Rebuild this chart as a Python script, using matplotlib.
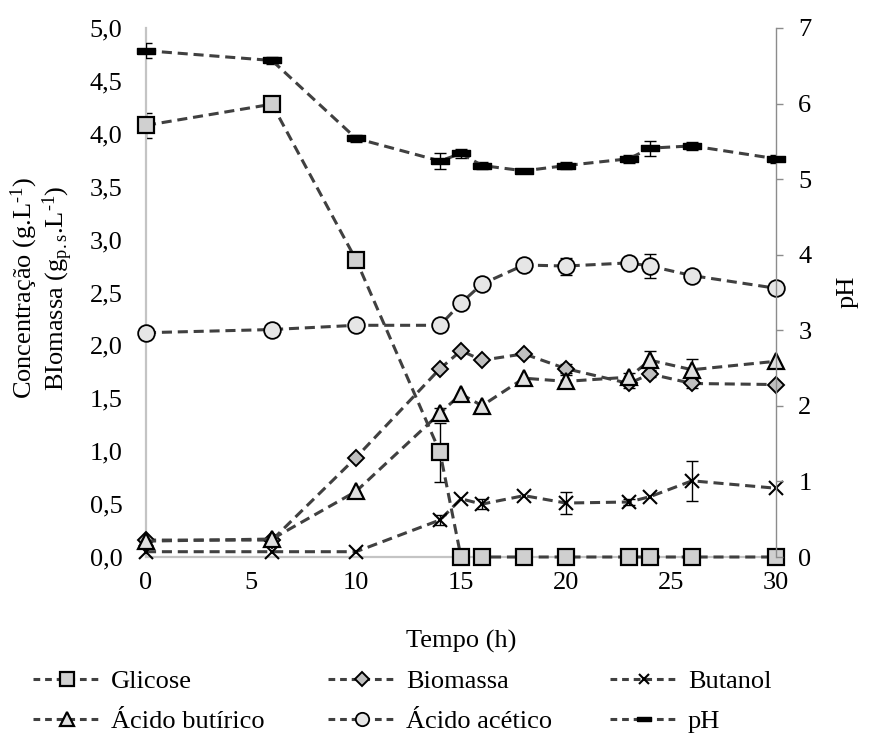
import matplotlib
matplotlib.use("Agg")
import matplotlib.pyplot as plt
import numpy as np
from matplotlib.lines import Line2D
from matplotlib.ticker import FuncFormatter, MultipleLocator

plt.rcParams["font.family"] = ["Liberation Serif", "DejaVu Serif"]
plt.rcParams["mathtext.fontset"] = "custom"
plt.rcParams["mathtext.rm"] = "Liberation Serif"
plt.rcParams["mathtext.it"] = "Liberation Serif:italic"
plt.rcParams["mathtext.default"] = "rm"

# Time points (h)
tempo = [0, 6, 10, 14, 15, 16, 18, 20, 23, 24, 26, 30]

# Concentrations (g/L) and biomass (g p.s./L)
glicose = [4.08, 4.28, 2.81, 0.99, 0, 0, 0, 0, 0, 0, 0, 0]
glicose_err = [0.12, 0, 0, 0.28, 0, 0, 0, 0, 0, 0, 0, 0]
biomassa = [0.16, 0.16, 0.94, 1.78, 1.95, 1.86, 1.92, 1.78, 1.64, 1.73, 1.64, 1.63]
biomassa_err = [0, 0, 0, 0, 0, 0, 0, 0.04, 0.04, 0.03, 0.04, 0]
butanol = [0.05, 0.05, 0.05, 0.35, 0.55, 0.50, 0.58, 0.51, 0.52, 0.57, 0.72, 0.65]
butanol_err = [0, 0, 0, 0.05, 0, 0.05, 0, 0.10, 0.03, 0, 0.19, 0]
ac_butirico = [0.15, 0.17, 0.62, 1.36, 1.54, 1.43, 1.69, 1.66, 1.70, 1.86, 1.77, 1.85]
ac_butirico_err = [0, 0, 0, 0.05, 0, 0, 0, 0.06, 0.04, 0.09, 0.10, 0]
ac_acetico = [2.12, 2.15, 2.19, 2.19, 2.40, 2.58, 2.76, 2.75, 2.78, 2.75, 2.66, 2.54]
ac_acetico_err = [0, 0, 0, 0, 0, 0, 0, 0.08, 0, 0.11, 0, 0]

# pH (right axis)
ph = [6.70, 6.57, 5.54, 5.24, 5.34, 5.18, 5.11, 5.18, 5.27, 5.41, 5.44, 5.27]
ph_err = [0.10, 0.05, 0.05, 0.11, 0.06, 0.05, 0.0, 0.05, 0.05, 0.10, 0.05, 0.05]

FS = 19
LINE_COLOR = "#404040"
DASH = (0, (3.3, 1.9))
LW = 2.2
CAP_HALF = 0.3  # half-width of error-bar caps, in hours

fig = plt.figure(figsize=(8.71, 7.4), dpi=100)
ax = fig.add_axes([146 / 871, 1 - 557 / 740, 630 / 871, 529 / 740])
ax2 = ax.twinx()

bar_marker = [(-1, -0.3), (1, -0.3), (1, 0.3), (-1, 0.3), (-1, -0.3)]

series = [
    (ax, glicose, glicose_err, "s", 12, "#D0D0D0", 1.6, "Glicose"),
    (ax, biomassa, biomassa_err, "D", 8.5, "#BFBFBF", 1.4, "Biomassa"),
    (ax, butanol, butanol_err, "x", 9.5, "black", 1.5, "Butanol"),
    (ax, ac_butirico, ac_butirico_err, "^", 12, "#E0E0E0", 1.6, "Ácido butírico"),
    (ax, ac_acetico, ac_acetico_err, "o", 12, "#E6E6E6", 1.3, "Ácido acético"),
    (ax2, ph, ph_err, bar_marker, 12.5, "black", 1.0, "pH"),
]

handles = {}
t = np.array(tempo, dtype=float)
for target, y, err, mk, ms, fc, mew, name in series:
    target.plot(tempo, y, linestyle=DASH, color=LINE_COLOR, lw=LW,
                marker=mk, markersize=ms, markerfacecolor=fc,
                markeredgecolor="black", markeredgewidth=mew,
                clip_on=False, zorder=3)
    yv = np.array(y, dtype=float)
    ev = np.array(err, dtype=float)
    keep = ev > 0
    lo, hi = yv[keep] - ev[keep], yv[keep] + ev[keep]
    tk = t[keep]
    target.vlines(tk, lo, hi, colors="black", lw=1.0, zorder=2.5)
    target.hlines(lo, tk - CAP_HALF, tk + CAP_HALF, colors="black", lw=1.0, zorder=2.5)
    target.hlines(hi, tk - CAP_HALF, tk + CAP_HALF, colors="black", lw=1.0, zorder=2.5)
    handles[name] = Line2D([], [], linestyle=(0, (2.2, 1.6)), color=LINE_COLOR, lw=LW,
                           marker=mk, markersize=ms * 0.8, markerfacecolor=fc,
                           markeredgecolor="black", markeredgewidth=mew)

ax.set_xlim(0, 30)
ax.set_ylim(0, 5)
ax2.set_ylim(0, 7)
ax.xaxis.set_major_locator(MultipleLocator(5))
ax.yaxis.set_major_locator(MultipleLocator(0.5))
ax2.yaxis.set_major_locator(MultipleLocator(1))
ax.yaxis.set_major_formatter(FuncFormatter(lambda v, p: f"{v:.1f}".replace(".", ",")))

for s in ["top", "right"]:
    ax.spines[s].set_visible(False)
for s in ["top", "left", "bottom"]:
    ax2.spines[s].set_visible(False)
ax.spines["left"].set_color("#C4C4C4")
ax.spines["left"].set_linewidth(1.6)
ax.spines["bottom"].set_color("#C4C4C4")
ax.spines["bottom"].set_linewidth(1.6)
ax2.spines["right"].set_color("#8C8C8C")
ax2.spines["right"].set_linewidth(1.0)

ax.tick_params(axis="y", length=0, pad=17, labelsize=FS)
ax.tick_params(axis="x", length=0, pad=11, labelsize=FS)
ax2.tick_params(axis="y", length=5, width=1.0, color="#8C8C8C", pad=11, labelsize=FS)

ax.set_xlabel("Tempo (h)", fontsize=FS, labelpad=26)

fig.text(42 / 871, 1 - 288 / 740,
         "Concentração (g.L$^{\u2010 1}$)\nBIomassa (g$_{\\mathrm{p.s}}$.L$^{\u2010 1}$)",
         rotation=90, ha="center", va="center", fontsize=FS, linespacing=1.0,
         multialignment="center")
fig.text(848 / 871, 1 - 292 / 740, "pH", rotation=90, ha="center", va="center",
         fontsize=FS)

columns = [
    (["Glicose", "Ácido butírico"], 33),
    (["Biomassa", "Ácido acético"], 328),
    (["Butanol", "pH"], 610),
]
for names, x0 in columns:
    fig.legend([handles[n] for n in names], names, loc="upper left",
               bbox_to_anchor=(x0 / 871, 1 - 670 / 740), frameon=False,
               fontsize=FS, handlelength=2.6, handletextpad=0.35,
               borderpad=0, borderaxespad=0, labelspacing=0.62)

fig.savefig("out.png", dpi=100)
